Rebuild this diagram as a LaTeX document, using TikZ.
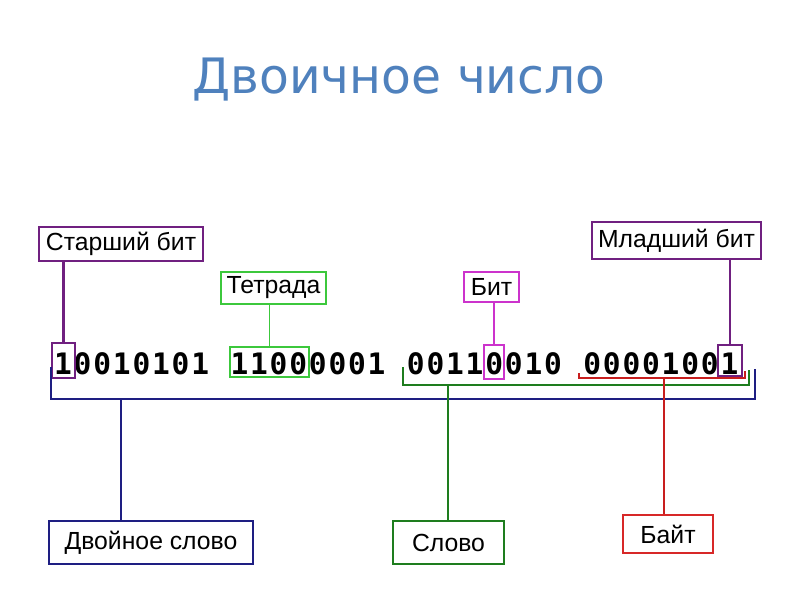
\documentclass[tikz,border=0pt]{standalone}
\usepackage{fontspec}
\setmainfont{Liberation Sans}
\newfontfamily\titulofonte{DejaVu Sans}
\newfontfamily\digitofonte{DejaVu Sans Mono}
\definecolor{azultitulo}{RGB}{79,129,189}
\definecolor{roxo}{RGB}{112,32,128}
\definecolor{verdeclaro}{RGB}{60,200,60}
\definecolor{rosa}{RGB}{204,51,204}
\definecolor{azulescuro}{RGB}{30,30,130}
\definecolor{verdeescuro}{RGB}{30,125,30}
\definecolor{vermelho}{RGB}{200,30,30}
\definecolor{vermelhoclaro}{RGB}{215,40,40}
\tikzset{
  rotulo/.style={rectangle,draw=#1,line width=0.8pt,inner sep=0pt,
    font=\fontsize{17.6}{20}\selectfont},
  marca/.style={rectangle,draw=#1,line width=0.9pt,inner sep=0pt},
  digito/.style={anchor=base,inner sep=0pt,
    font=\digitofonte\bfseries\fontsize{21}{24}\selectfont},
  liga/.style={#1,line width=0.9pt}
}
\begin{document}
\begin{tikzpicture}[x=0.025cm,y=-0.025cm]
\useasboundingbox (0,0) rectangle (800,600);
\node[anchor=base,text=azultitulo,font=\titulofonte\fontsize{34.7}{40}\selectfont]
  (titulo) at (399,93) {Двоичное число};
% os 32 bits, em grupos de 8
\foreach \c [count=\i] in {1,0,0,1,0,1,0,1,1,1,0,0,0,0,0,1,0,0,1,1,0,0,1,0,0,0,0,0,1,0,0,1}{
  \pgfmathsetmacro\xd{63+19.6*(\i-1+int((\i-1)/8))}
  \node[digito] (d\i) at (\xd,374) {\c};
}
% marcas nos bits
\node[marca=roxo,minimum width=5.75mm,minimum height=8.75mm] (msb) at (63.5,360.5) {};
\node[marca=verdeclaro,minimum width=19.75mm,minimum height=7.5mm] (tet) at (269.5,362) {};
\node[marca=rosa,minimum width=5mm,minimum height=8.5mm] (bit) at (494,362) {};
\node[marca=roxo,minimum width=6mm,minimum height=7.75mm] (lsb) at (730,360.5) {};
% rotulos
\node[rotulo=roxo,minimum width=41mm,minimum height=8.5mm] (lmsb) at (121,244) {Старший бит};
\node[rotulo=verdeclaro,minimum width=26.25mm,minimum height=8mm] (ltet) at (273.5,288) {Тетрада};
\node[rotulo=rosa,minimum width=13.75mm,minimum height=7.5mm] (lbit) at (491.5,287) {Бит};
\node[rotulo=roxo,minimum width=42.25mm,minimum height=9.25mm] (llsb) at (676.5,240.5) {Младший бит};
\node[rotulo=azulescuro,minimum width=51mm,minimum height=10.75mm] (ldw) at (151,542.5) {Двойное слово};
\node[rotulo=verdeescuro,minimum width=27.75mm,minimum height=10.75mm] (lw) at (448.5,542.5) {Слово};
\node[rotulo=vermelhoclaro,minimum width=22.5mm,minimum height=9.5mm] (lb) at (668,534) {Байт};
\draw[liga=roxo,line width=1.6pt] (msb.north) -- (msb.north |- lmsb.south);
\draw[liga=verdeclaro] (tet.north) -- (tet.north |- ltet.south);
\draw[liga=rosa] (bit.north) -- (bit.north |- lbit.south);
\draw[liga=roxo] (lsb.north) -- (lsb.north |- llsb.south);
% chaves
\coordinate (dwa) at (51,367);
\coordinate (dwb) at (755,369);
\coordinate (dwm) at (121,399);
\draw[liga=azulescuro] (dwa) -- ++(0,32) -| (dwb);
\draw[liga=azulescuro] (dwm) -- (dwm |- ldw.north);
\coordinate (wa) at (403,367);
\coordinate (wb) at (749,370);
\coordinate (wm) at (448,385);
\draw[liga=verdeescuro] (wa) -- ++(0,18) -| (wb);
\draw[liga=verdeescuro] (wm) -- (wm |- lw.north);
\coordinate (ba) at (579,373);
\coordinate (bb) at (745,371);
\coordinate (bm) at (664,378);
\draw[liga=vermelho] (ba) -- ++(0,5) -| (bb);
\draw[liga=vermelho] (bm) -- (bm |- lb.north);
\end{tikzpicture}
\end{document}
